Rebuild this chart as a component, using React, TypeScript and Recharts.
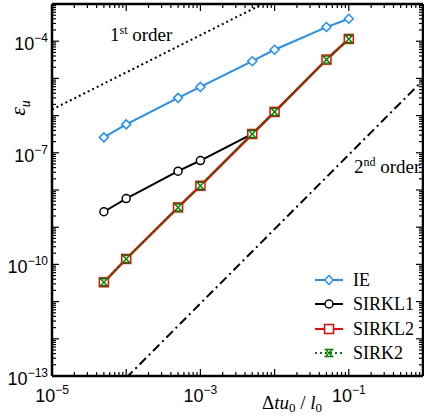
import React from 'react';
import { LineChart, Line, XAxis, YAxis, Legend } from 'recharts';

// ---------- data ----------
const dt = [5e-5, 1e-4, 5e-4, 1e-3, 5e-3, 1e-2, 5e-2, 1e-1];
const errIE = [2.6e-7, 5.8e-7, 3.0e-6, 5.9e-6, 2.9e-5, 5.9e-5, 2.4e-4, 4.0e-4];
const errSIRKL1 = [2.6e-9, 5.9e-9, 3.2e-8, 6.2e-8, 3.2e-7, 1.26e-6, 3.2e-5, 1.15e-4];
const errSIRKL2 = [3.3e-11, 1.4e-10, 3.4e-9, 1.3e-8, 3.2e-7, 1.26e-6, 3.2e-5, 1.15e-4];
const errSIRK2 = [3.3e-11, 1.4e-10, 3.4e-9, 1.3e-8, 3.2e-7, 1.26e-6, 3.2e-5, 1.15e-4];
const order1X = [1e-5, 1e-2];
const order1Y = [1.45e-6, 1.45e-3];
const order2X = [1e-4, 1];
const order2Y = [8.9e-14, 8.9e-6];

const seriesNames = ['IE', 'SIRKL1', 'SIRKL2', 'SIRK2'];

// ---------- axes ----------
const xDomain = [1e-5, 1];
const yDomain = [1e-13, 1e-3];
const xMajor = [1e-5, 1e-4, 1e-3, 1e-2, 1e-1, 1];
const yMajor = [1e-13, 1e-12, 1e-11, 1e-10, 1e-9, 1e-8, 1e-7, 1e-6, 1e-5, 1e-4, 1e-3];
const minorMult = [2, 3, 4, 5, 6, 7, 8, 9];
const xLabeled = [1e-5, 1e-3, 1e-1];
const yLabeled = [1e-13, 1e-10, 1e-7, 1e-4];

const withMinor = (majors: number[]) => {
  const out: number[] = [...majors];
  majors.slice(0, -1).forEach((m) => minorMult.forEach((k) => out.push(m * k)));
  return out.sort((a, b) => a - b);
};
const xTicks = withMinor(xMajor);
const yTicks = withMinor(yMajor);

const mk = (xs: number[], ys: number[]) => xs.map((x, i) => ({ x, y: ys[i] }));

const SERIF = { fontFamily: "'Liberation Serif', 'Times New Roman', serif" };
const SANS = { fontFamily: "'Liberation Sans', Arial, sans-serif" };
const BLUE = '#1E8FFF';
const RED = '#FF0000';
const GREEN = '#008000';

const lg = (v: number) => Math.log10(v);
const isMajor = (v: number) => Math.abs(lg(v) - Math.round(lg(v))) < 1e-6;
const inList = (v: number, list: number[]) => list.some((l) => Math.abs(lg(v) - lg(l)) < 1e-6);

function PowLabel({ x, y, v, anchor }: any) {
  const e = Math.round(lg(v));
  return (
    <text x={x} y={y} textAnchor={anchor} style={SANS} fontSize={18} fill="#000">
      10
      <tspan dy={-8} fontSize={12}>{(e < 0 ? '\u2212' : '') + Math.abs(e)}</tspan>
    </text>
  );
}

const makeTick = (side: string) => (props: any) => {
  const { x, y, payload } = props;
  const v = payload.value;
  const len = isMajor(v) ? 7 : 4;
  const sw = 1.2;
  let line: any = null;
  if (side === 'bottom') line = <line x1={x} y1={y} x2={x} y2={y - len} stroke="#000" strokeWidth={sw} />;
  if (side === 'top') line = <line x1={x} y1={y} x2={x} y2={y + len} stroke="#000" strokeWidth={sw} />;
  if (side === 'left') line = <line x1={x} y1={y} x2={x + len} y2={y} stroke="#000" strokeWidth={sw} />;
  if (side === 'right') line = <line x1={x} y1={y} x2={x - len} y2={y} stroke="#000" strokeWidth={sw} />;
  let label: any = null;
  if (side === 'bottom' && inList(v, xLabeled)) label = <PowLabel x={x} y={y + 26} v={v} anchor="middle" />;
  if (side === 'left' && inList(v, yLabeled)) label = <PowLabel x={x - 4} y={y + 9} v={v} anchor="end" />;
  return (
    <g>
      {line}
      {label}
    </g>
  );
};

// ---------- markers ----------
const Diamond = ({ cx, cy, s = 4.5 }: any) => (
  <path d={`M${cx},${cy - s}L${cx + s},${cy}L${cx},${cy + s}L${cx - s},${cy}Z`} fill="#fff" stroke={BLUE} strokeWidth={1.5} />
);
const Circ = ({ cx, cy }: any) => <circle cx={cx} cy={cy} r={4} fill="#fff" stroke="#000" strokeWidth={1.5} />;
const Sq = ({ cx, cy }: any) => (
  <rect x={cx - 4.5} y={cy - 4.5} width={9} height={9} fill="#fff" stroke={RED} strokeWidth={1.5} />
);
const Hour = ({ cx, cy }: any) => {
  const s = 3.5;
  return (
    <path
      d={`M${cx - s},${cy - s}L${cx + s},${cy - s}L${cx - s},${cy + s}L${cx + s},${cy + s}Z`}
      fill="none"
      stroke={GREEN}
      strokeWidth={1.4}
    />
  );
};

const markerFor: Record<string, any> = { IE: Diamond, SIRKL1: Circ, SIRKL2: Sq, SIRK2: Hour };
const styleFor: Record<string, any> = {
  IE: { stroke: BLUE, dash: undefined },
  SIRKL1: { stroke: '#000', dash: undefined },
  SIRKL2: { stroke: RED, dash: undefined },
  SIRK2: { stroke: GREEN, dash: '2 3' },
};

const dotFn = (M: any) => (p: any) => <M key={`d${p.index}`} cx={p.cx} cy={p.cy} />;

const renderLegend = (props: any) => {
  const payload = (props.payload || []).filter((p: any) => seriesNames.includes(p.value));
  payload.sort((a: any, b: any) => seriesNames.indexOf(a.value) - seriesNames.indexOf(b.value));
  const ys = [14, 38, 63, 87];
  return (
    <svg width={119} height={100} style={{ display: 'block' }}>
      {payload.map((p: any, i: number) => {
        const name = p.value;
        const M = markerFor[name];
        const st = styleFor[name];
        const y = ys[i];
        return (
          <g key={name}>
            <line x1={10} y1={y} x2={38} y2={y} stroke={st.stroke} strokeWidth={2} strokeDasharray={st.dash} />
            <M cx={24} cy={y} />
            <text x={48} y={y + 6} style={SERIF} fontSize={18} fill="#000">
              {name}
            </text>
          </g>
        );
      })}
    </svg>
  );
};

const BottomLabels = () => (
  <g>
    <text x={262} y={409} style={SERIF} fontSize={19} fill="#000">
      Δ<tspan fontStyle="italic">tu</tspan>
      <tspan dy={3} fontSize={13}>0</tspan>
      <tspan dy={-3}> / </tspan>
      <tspan fontStyle="italic">l</tspan>
      <tspan dy={3} fontSize={13}>0</tspan>
    </text>
    <text x={110} y={41} style={SERIF} fontSize={19} fill="#000">
      1<tspan dy={-7} fontSize={12}>st</tspan>
      <tspan dy={7}> order</tspan>
    </text>
    <text x={354} y={173} style={SERIF} fontSize={19} fill="#000">
      2<tspan dy={-7} fontSize={12}>nd</tspan>
      <tspan dy={7}> order</tspan>
    </text>
  </g>
);

const YLabel = () => (
  <text x={25} y={108} transform="rotate(-90 25 108)" textAnchor="middle" style={SERIF} fontSize={22} fill="#000">
    <tspan fontStyle="italic">ε</tspan>
    <tspan dy={5} fontSize={14} fontStyle="italic">u</tspan>
  </text>
);

const axisLine = { stroke: '#000', strokeWidth: 2.5 };

export default function App() {
  return (
    <div style={{ position: 'absolute', left: 0, top: 0, width: 424, height: 417, background: '#fff' }}>
      <LineChart width={424} height={417} margin={{ top: 3, right: 0, bottom: 0, left: 0 }}>
        <XAxis
          xAxisId="x"
          dataKey="x"
          type="number"
          scale="log"
          domain={xDomain}
          allowDataOverflow
          orientation="bottom"
          height={41}
          ticks={xTicks}
          interval={0}
          tickSize={0}
          tickMargin={0}
          tickLine={false}
          axisLine={axisLine}
          tick={makeTick('bottom')}
          label={() => <BottomLabels />}
        />
        <XAxis
          xAxisId="xTop"
          dataKey="x"
          type="number"
          scale="log"
          domain={xDomain}
          allowDataOverflow
          orientation="top"
          height={1}
          ticks={xTicks}
          interval={0}
          tickSize={0}
          tickMargin={0}
          tickLine={false}
          axisLine={axisLine}
          tick={makeTick('top')}
        />
        <YAxis
          yAxisId="y"
          dataKey="y"
          type="number"
          scale="log"
          domain={yDomain}
          allowDataOverflow
          orientation="left"
          width={52}
          ticks={yTicks}
          interval={0}
          tickSize={0}
          tickMargin={0}
          tickLine={false}
          axisLine={axisLine}
          tick={makeTick('left')}
          label={() => <YLabel />}
        />
        <YAxis
          yAxisId="yRight"
          dataKey="y"
          type="number"
          scale="log"
          domain={yDomain}
          allowDataOverflow
          orientation="right"
          width={1}
          ticks={yTicks}
          interval={0}
          tickSize={0}
          tickMargin={0}
          tickLine={false}
          axisLine={axisLine}
          tick={makeTick('right')}
        />
        <Line
          xAxisId="x"
          yAxisId="y"
          data={mk(order1X, order1Y)}
          dataKey="y"
          name="order1"
          stroke="#000"
          strokeWidth={2}
          strokeDasharray="2 3"
          dot={false}
          activeDot={false}
          legendType="none"
          isAnimationActive={false}
        />
        <Line
          xAxisId="x"
          yAxisId="y"
          data={mk(order2X, order2Y)}
          dataKey="y"
          name="order2"
          stroke="#000"
          strokeWidth={2}
          strokeDasharray="9 4 2 4"
          dot={false}
          activeDot={false}
          legendType="none"
          isAnimationActive={false}
        />
        <Line
          xAxisId="x"
          yAxisId="y"
          data={mk(dt, errIE)}
          dataKey="y"
          name="IE"
          stroke={BLUE}
          strokeWidth={2}
          dot={dotFn(Diamond)}
          activeDot={false}
          isAnimationActive={false}
        />
        <Line
          xAxisId="x"
          yAxisId="y"
          data={mk(dt, errSIRKL1)}
          dataKey="y"
          name="SIRKL1"
          stroke="#000"
          strokeWidth={2}
          dot={dotFn(Circ)}
          activeDot={false}
          isAnimationActive={false}
        />
        <Line
          xAxisId="x"
          yAxisId="y"
          data={mk(dt, errSIRKL2)}
          dataKey="y"
          name="SIRKL2"
          stroke={RED}
          strokeWidth={2.5}
          dot={dotFn(Sq)}
          activeDot={false}
          isAnimationActive={false}
        />
        <Line
          xAxisId="x"
          yAxisId="y"
          data={mk(dt, errSIRK2)}
          dataKey="y"
          name="SIRK2"
          stroke={GREEN}
          strokeWidth={2}
          strokeDasharray="2.5 2.5"
          dot={dotFn(Hour)}
          activeDot={false}
          isAnimationActive={false}
        />
        <Legend
          layout="vertical"
          align="center"
          verticalAlign="middle"
          wrapperStyle={{ position: 'absolute', left: 305, top: 266, width: 119, height: 100 }}
          content={renderLegend}
        />
      </LineChart>
    </div>
  );
}
